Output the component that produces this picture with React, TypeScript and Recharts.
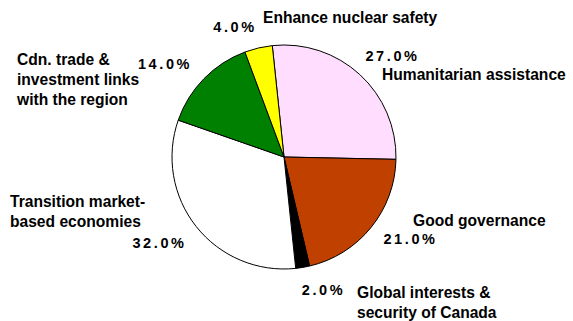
import { PieChart, Pie, Cell } from 'recharts';

// Program spending by objective, share of total (%)
const objectives = [
  'Humanitarian assistance',
  'Good governance',
  'Global interests & security of Canada',
  'Transition market-based economies',
  'Cdn. trade & investment links with the region',
  'Enhance nuclear safety',
];
const shares = [27.0, 21.0, 2.0, 32.0, 14.0, 4.0];

// name as drawn, broken into lines
const nameLines = [
  ['Humanitarian assistance'],
  ['Good governance'],
  ['Global interests &', 'security of Canada'],
  ['Transition market-', 'based economies'],
  ['Cdn. trade &', 'investment links', 'with the region'],
  ['Enhance nuclear safety'],
];

const sliceColors = ['#FFDDFF', '#C04000', '#000000', '#FFFFFF', '#008000', '#FFFF00'];

// label placement, offsets from the pie centre
const pctPos = [
  [107, -101.5],
  [125, 81.5],
  [38, 132.5],
  [-126, 85.5],
  [-120.5, -94],
  [-50.5, -131],
];
const namePos = [
  [98, -77],
  [129, 69],
  [73, 141],
  [-274, 50],
  [-267, -92],
  [-21, -134],
];

const data = objectives.map((name, i) => ({ name, value: shares[i] }));

const FONT = '"Liberation Sans", Arial, sans-serif';

const renderLabel = (props: any) => {
  const { cx, cy, index, value } = props;
  const [px, py] = pctPos[index];
  const [nx, ny] = namePos[index];
  return (
    <g key={`lbl-${index}`}>
      <text
        x={cx + px + 1.5}
        y={cy + py + 0.5}
        textAnchor="middle"
        dominantBaseline="central"
        fontFamily={FONT}
        fontWeight="bold"
        fontSize={14.5}
        letterSpacing={2.6}
        fill="#000"
      >
        {`${Number(value).toFixed(1)}%`}
      </text>
      <text x={cx + nx} y={cy + ny} fontFamily={FONT} fontWeight="bold" fontSize={15.6} fill="#000">
        {nameLines[index].map((line, j) => (
          <tspan key={j} x={cx + nx} y={cy + ny + j * 20}>
            {line}
          </tspan>
        ))}
      </text>
    </g>
  );
};

export default function App() {
  return (
    <div style={{ position: 'absolute', left: 0, top: 0, background: '#fff' }}>
      <PieChart width={573} height={321} margin={{ top: 0, right: 0, bottom: 0, left: 0 }}>
        <Pie
          data={data}
          dataKey="value"
          nameKey="name"
          cx={284}
          cy={157}
          outerRadius={112}
          startAngle={96}
          endAngle={-264}
          stroke="#000"
          strokeWidth={1}
          label={renderLabel}
          labelLine={false}
          isAnimationActive={false}
        >
          {data.map((d, i) => (
            <Cell key={d.name} fill={sliceColors[i]} />
          ))}
        </Pie>
      </PieChart>
    </div>
  );
}
